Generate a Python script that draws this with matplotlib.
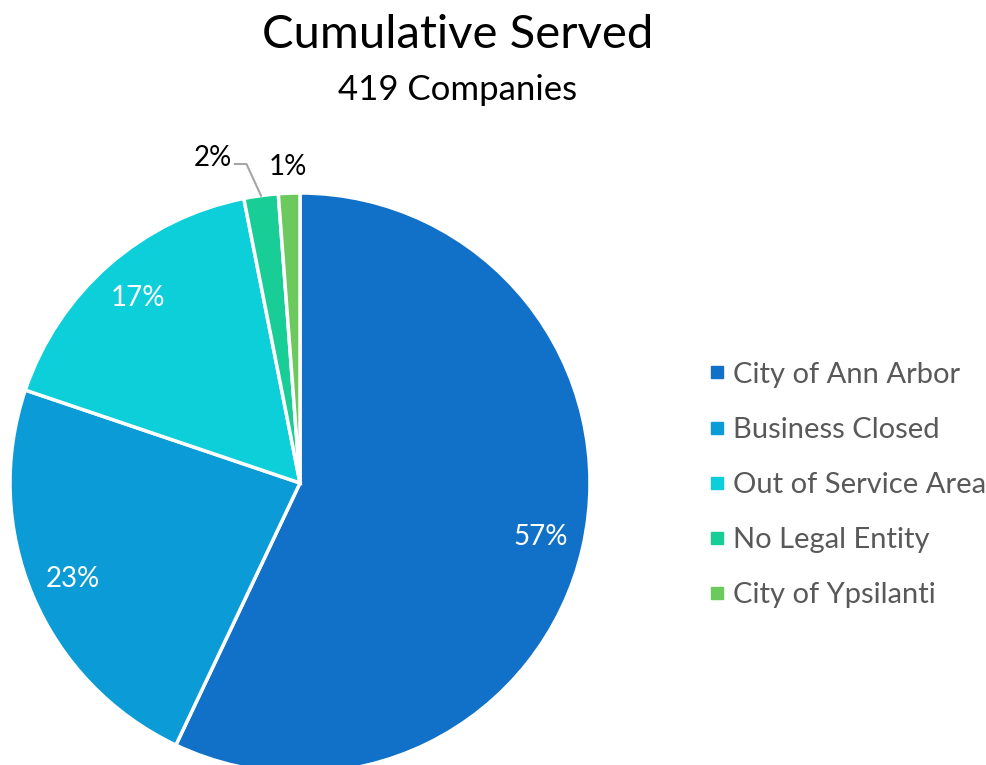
import numpy as np
import matplotlib
matplotlib.use("Agg")
import matplotlib.pyplot as plt
from matplotlib.lines import Line2D

plt.rcParams['font.family'] = ['Lato', 'DejaVu Sans']

categories = ["City of Ann Arbor", "Business Closed", "Out of Service Area",
              "No Legal Entity", "City of Ypsilanti"]
counts = [239, 97, 70, 8, 5]
colors = ["#1170C8", "#0B9BD7", "#0CCFD9", "#19CE96", "#6CC95E"]
title = "Cumulative Served"
subtitle = "419 Companies"

W, H = 987, 765
fig = plt.figure(figsize=(W / 100, H / 100), dpi=100)
ax = fig.add_axes([10 / W, -8 / H, 580 / W, 580 / H])

wedges, _ = ax.pie(counts, colors=colors, startangle=90, counterclock=False,
                   radius=1.0, wedgeprops=dict(edgecolor="white", linewidth=2.5))
ax.set_xlim(-1, 1)
ax.set_ylim(-1, 1)
ax.set_aspect("equal")
ax.axis("off")

total = sum(counts)
for i, (w, c) in enumerate(zip(wedges, counts)):
    mid = np.deg2rad((w.theta1 + w.theta2) / 2)
    pct = f"{round(100 * c / total)}%"
    if c / total > 0.05:
        r = 0.85
        ax.text(r * np.cos(mid), r * np.sin(mid), pct, color="white",
                fontsize=20, ha="center", va="center")
    elif i == 3:
        # small slice: label off to the side with a bent leader line
        sx, sy = np.cos(mid), np.sin(mid)
        bx, by = sx - 0.05, 1.10
        ex = bx - 0.04
        ax.plot([sx, bx, ex], [sy, by, by], color="#A6A6A6", lw=1.5,
                clip_on=False)
        ax.text(ex - 0.01, by + 0.02, pct, color="black", fontsize=20,
                ha="right", va="center")
    else:
        r = 1.09
        ax.text(r * np.cos(mid), r * np.sin(mid), pct, color="black",
                fontsize=20, ha="center", va="center")

fig.text(458 / W, 1 - 35 / H, title, fontsize=34, ha="center", va="center")
fig.text(458 / W, 1 - 90 / H, subtitle, fontsize=25, ha="center", va="center")

handles = [Line2D([], [], marker="s", linestyle="none", markersize=8,
                  markerfacecolor=col, markeredgecolor=col) for col in colors]
leg = fig.legend(handles, categories, loc="center left",
                 bbox_to_anchor=(708 / W, 1 - 485 / H), frameon=False,
                 fontsize=21, labelspacing=1.0, handletextpad=0.26,
                 borderpad=0, borderaxespad=0, handlelength=0.6)
for t in leg.get_texts():
    t.set_color("#595959")

fig.savefig("out.png", dpi=100)
